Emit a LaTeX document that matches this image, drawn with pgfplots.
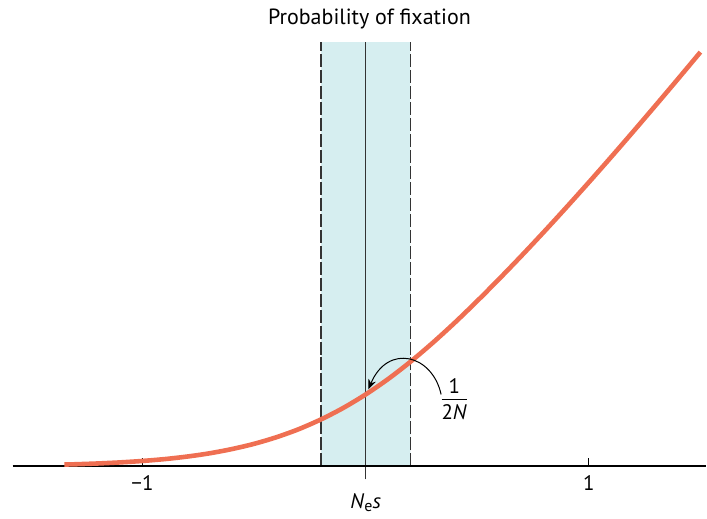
\documentclass[border=0pt]{standalone}
\usepackage{pgfplots}
\pgfplotsset{compat=1.18}
\usetikzlibrary{arrows.meta}
\usepackage{fontspec}
\setmainfont{PT Sans}

\definecolor{curvecol}{HTML}{EF6F52}
\definecolor{bandcol}{HTML}{D6EEF0}
\definecolor{linecol}{HTML}{333333}

\begin{document}
\begin{tikzpicture}
\begin{axis}[
  scale only axis,
  width=353.5pt, height=259pt,
  xmin=-1.6385, xmax=1.525,
  ymin=-0.708, ymax=6.486,
  hide axis,
  clip=false,
]
% frame of the figure
\path (rel axis cs:0,0) rectangle (rel axis cs:1,1);

% neutral zone around N_e s = 0
\addplot[fill=bandcol, draw=none] coordinates {(-0.2,0) (-0.2,5.9) (0.2,5.9) (0.2,0)} \closedcycle;
\addplot[linecol, line width=0.8pt, dash pattern=on 6.5pt off 1.5pt] coordinates {(-0.2,0) (-0.2,5.9)};
\addplot[linecol, line width=0.8pt, dash pattern=on 6.5pt off 1.5pt] coordinates {(0.2,0) (0.2,5.9)};
\addplot[linecol, line width=0.6pt] coordinates {(0,-0.18) (0,5.9)};

% horizontal axis with ticks
\draw[black, line width=1pt] (axis cs:-1.582,0) -- (axis cs:1.525,0);
\draw[black, line width=0.5pt] (axis cs:-1,0) -- (axis cs:-1,0.12);
\draw[black, line width=0.5pt] (axis cs:1,0) -- (axis cs:1,0.12);
\node[font=\fontsize{10.5}{12}\selectfont] at (axis cs:-1,-0.23) {−1};
\node[font=\fontsize{10.5}{12}\selectfont] at (axis cs:1,-0.23) {1};
\node[font=\fontsize{10.5}{12}\selectfont] at (axis cs:0,-0.5) {\textit{N}\raisebox{-1.5pt}{\fontsize{8}{9}\selectfont e}\textit{s}};

% probability of fixation, relative to 1/2N
\addplot[curvecol, line width=2.3pt, smooth] table {
x y
-1.35 0.025
-1.3 0.029
-1.2 0.040
-1.1 0.055
-1.0 0.075
-0.9 0.101
-0.8 0.136
-0.7 0.181
-0.6 0.240
-0.5 0.313
-0.4 0.405
-0.3 0.517
-0.2 0.653
-0.1 0.813
0.0 1.000
0.1 1.213
0.2 1.453
0.3 1.717
0.4 2.000
0.5 2.300
0.6 2.612
0.7 2.934
0.8 3.265
0.9 3.604
1.0 3.950
1.1 4.302
1.2 4.660
1.3 5.023
1.4 5.390
1.5 5.761
};

% label for the neutral value
\draw[black, line width=0.5pt, -{Stealth[length=5pt, width=4pt]}]
  (axis cs:0.338,1.0) .. controls (axis cs:0.30,1.55) and (axis cs:0.10,1.72) .. (axis cs:0.012,1.07);
\node[font=\fontsize{10.5}{12}\selectfont, inner sep=0pt] at (axis cs:0.397,0.907)
  {\renewcommand{\arraystretch}{1.05}\begin{tabular}{@{}c@{}}1\\[-1pt]\hline\rule{0pt}{10pt}2\textit{N}\end{tabular}};

% title
\node[font=\fontsize{11}{13}\selectfont] at (axis cs:0.017,6.22) {Probability of fixation};
\end{axis}
\end{tikzpicture}
\end{document}
